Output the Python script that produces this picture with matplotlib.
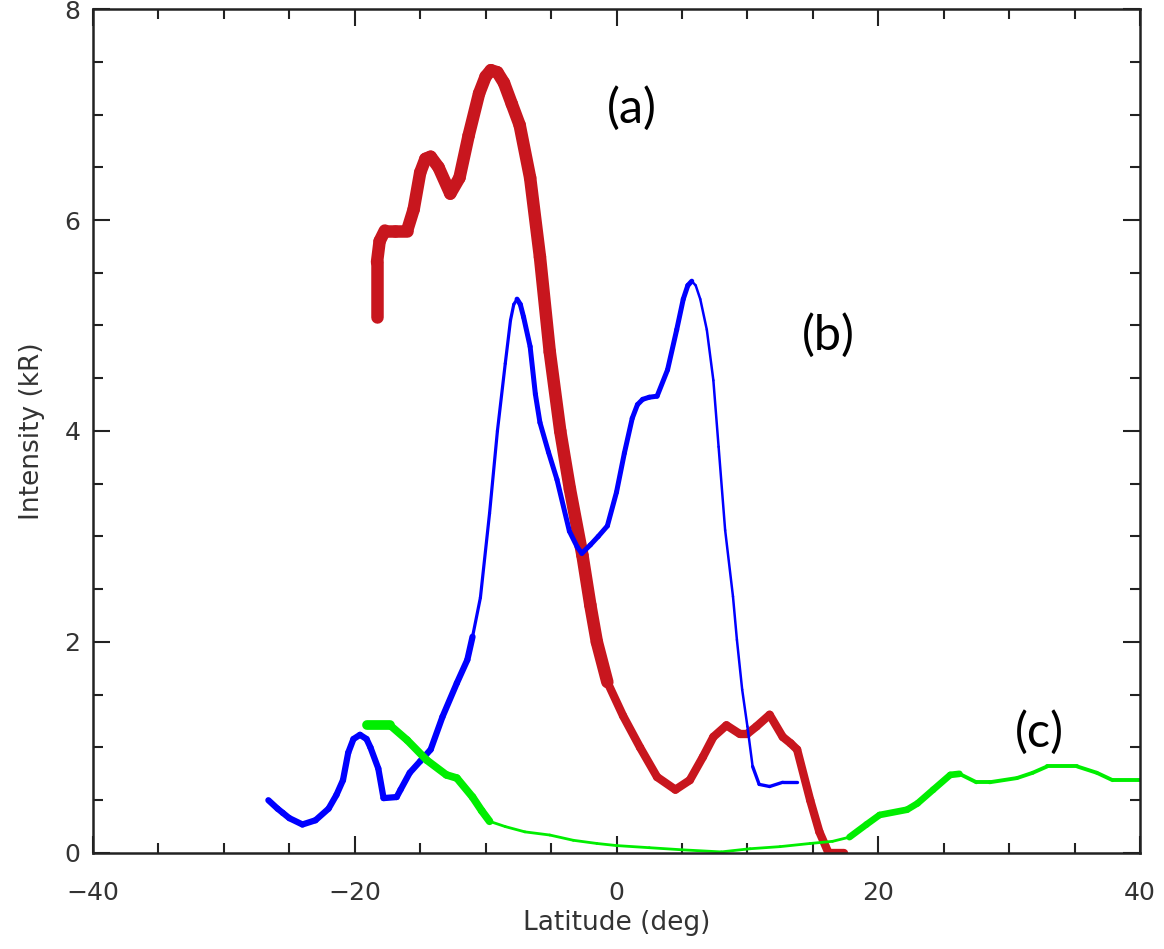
import numpy as np
import matplotlib.pyplot as plt
from matplotlib.collections import LineCollection
from matplotlib.ticker import MultipleLocator

# curve (a): red
red_lat = [-18.3, -18.3, -18.1, -17.7, -16.9, -16.0, -15.5, -15.0, -14.6, -14.2, -13.6, -12.7,
           -12.0, -11.3, -10.5, -10.0, -9.6, -9.1, -8.6, -8.0, -7.4, -6.6, -5.85, -5.1, -4.3, -3.56,
           -2.6, -2.0, -1.5, -0.7, 0.5, 1.8, 3.1, 4.5, 5.6, 6.6, 7.4, 8.4, 9.4, 10.0,
           10.7, 11.7, 12.7, 13.3, 13.8, 14.8, 15.5, 16.2, 17.4]
red_int = [5.08, 5.6, 5.8, 5.9, 5.9, 5.9, 6.1, 6.45, 6.58, 6.6, 6.5, 6.25,
           6.4, 6.8, 7.2, 7.36, 7.42, 7.4, 7.3, 7.1, 6.9, 6.4, 5.65, 4.75, 4.0, 3.45,
           2.82, 2.35, 2.0, 1.62, 1.3, 1.0, 0.72, 0.6, 0.69, 0.91, 1.1, 1.21, 1.13, 1.13,
           1.2, 1.31, 1.1, 1.04, 0.98, 0.5, 0.2, 0.0, 0.0]

# curve (b): blue
blue_lat = [-26.6, -25.9, -25.5, -25.0, -24.0, -23.0, -22.0, -21.4, -20.9, -20.5, -20.1,
            -19.6, -19.1, -18.8, -18.2, -17.8, -16.8, -16.5, -15.8, -15.0, -14.2, -13.3,
            -12.2, -11.4, -11.0, -10.4, -9.7, -9.1, -8.5, -8.1, -7.85, -7.6, -7.35, -7.1,
            -6.6, -6.2, -5.85, -5.2, -4.55, -3.6, -3.0, -2.65, -2.0, -1.4, -0.7, 0.0, 0.6,
            1.2, 1.6, 2.0, 2.5, 3.1, 3.9, 4.6, 5.1, 5.45, 5.75, 6.05, 6.4, 6.9, 7.4, 7.8,
            8.3, 8.9, 9.2, 9.6, 10.0, 10.4, 10.9, 11.7, 12.7, 13.8]
blue_int = [0.50, 0.42, 0.38, 0.33, 0.27, 0.31, 0.42, 0.55, 0.69, 0.95, 1.08,
            1.12, 1.08, 1.0, 0.8, 0.52, 0.53, 0.6, 0.76, 0.87, 0.98, 1.29,
            1.61, 1.83, 2.05, 2.42, 3.22, 4.0, 4.64, 5.05, 5.2, 5.25, 5.2, 5.08,
            4.8, 4.35, 4.08, 3.8, 3.54, 3.05, 2.9, 2.84, 2.92, 3.0, 3.1, 3.42, 3.79,
            4.12, 4.25, 4.3, 4.32, 4.33, 4.58, 4.96, 5.25, 5.38, 5.42, 5.38, 5.25, 4.96,
            4.48, 3.85, 3.06, 2.43, 2.02, 1.55, 1.2, 0.82, 0.65, 0.63, 0.67, 0.67]

# curve (c): green
green_lat = [-19.1, -17.3, -16.0, -14.5, -13.0, -12.2, -11.0, -10.3, -9.7, -8.5, -7.0,
             -5.1, -3.3, -1.5, 0.0, 2.5, 5.0, 8.0, 10.2, 12.5, 14.8, 16.5, 17.8, 19.1,
             20.1, 22.2, 23.0, 24.2, 25.5, 26.2, 27.5, 28.5, 30.6, 31.8, 32.9, 35.2,
             36.7, 37.9, 40.0]
green_int = [1.21, 1.21, 1.07, 0.88, 0.74, 0.71, 0.53, 0.40, 0.30, 0.25, 0.20,
             0.17, 0.12, 0.09, 0.07, 0.05, 0.03, 0.01, 0.04, 0.06, 0.09, 0.11, 0.15, 0.27,
             0.36, 0.41, 0.47, 0.60, 0.74, 0.75, 0.67, 0.67, 0.71, 0.76, 0.82, 0.82,
             0.76, 0.69, 0.69]

labels = ["(a)", "(b)", "(c)"]
label_pos = [(1.2, 7.06), (16.15, 4.91), (32.3, 1.14)]


def draw_curve(ax, lat, val, color, zones):
    # zones: list of (upper latitude, linewidth) -> thickness changes along the curve
    lat = np.asarray(lat)
    val = np.asarray(val)
    pts = np.column_stack([lat, val])
    segs = np.stack([pts[:-1], pts[1:]], axis=1)
    mids = (lat[:-1] + lat[1:]) / 2
    widths = []
    for m in mids:
        for xmax, lw in zones:
            if m <= xmax:
                widths.append(lw)
                break
    lc = LineCollection(segs, colors=color, linewidths=widths, capstyle='round',
                        joinstyle='round')
    ax.add_collection(lc)


fig = plt.figure(figsize=(11.64, 9.49), dpi=100)
ax = fig.add_axes([0.0799, 0.1012, 0.8995, 0.8893])

draw_curve(ax, red_lat, red_int, '#c8161e', [(-1.0, 9.0), (99, 6.0)])
draw_curve(ax, blue_lat, blue_int, '#0000ff',
           [(-11.2, 4.5), (-7.6, 2.3), (5.7, 3.6), (10.6, 1.8), (99, 2.4)])
draw_curve(ax, green_lat, green_int, '#00ee00',
           [(-17.3, 7.0), (-9.5, 5.5), (17.5, 2.0), (26.5, 4.8), (99, 2.8)])

ax.set_xlim(-40, 40)
ax.set_ylim(0, 8)
ax.xaxis.set_major_locator(MultipleLocator(20))
ax.xaxis.set_minor_locator(MultipleLocator(5))
ax.yaxis.set_major_locator(MultipleLocator(2))
ax.yaxis.set_minor_locator(MultipleLocator(0.5))
ax.tick_params(which='both', direction='in', top=True, right=True, width=1.5,
               color='#222222')
ax.tick_params(which='major', length=12)
ax.tick_params(which='minor', length=7)
ax.tick_params(axis='x', which='major', pad=20, labelsize=18, labelcolor='#333333')
ax.tick_params(axis='y', which='major', pad=9, labelsize=18, labelcolor='#333333')
for s in ax.spines.values():
    s.set_linewidth(1.8)
    s.set_color('#222222')

ax.set_xlabel("Latitude (deg)", fontsize=19, color='#333333', labelpad=4)
ax.set_ylabel("Intensity (kR)", fontsize=19, color='#333333', labelpad=14)

for txt, (lx, ly) in zip(labels, label_pos):
    ax.text(lx, ly, txt, fontsize=35, family='Lato', ha='center', va='center')

fig.savefig("out.png", dpi=100)
